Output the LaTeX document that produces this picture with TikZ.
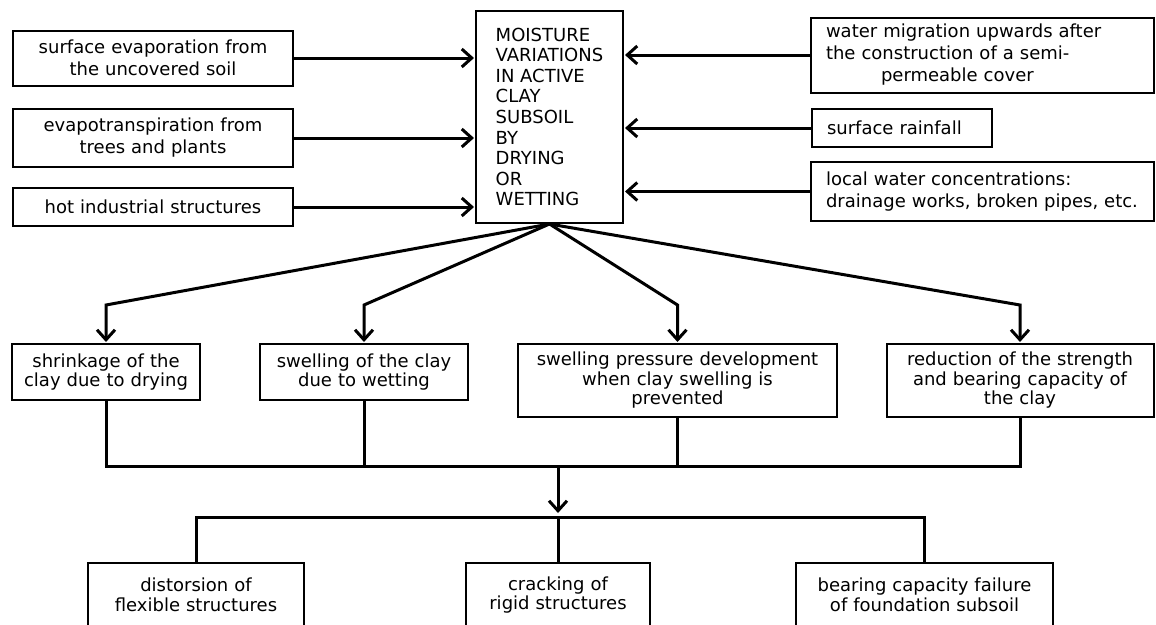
\documentclass[tikz,border=0pt]{standalone}
\usepackage{fontspec}
\setmainfont{DejaVu Sans}
\usetikzlibrary{arrows.meta}

\begin{document}
\begin{tikzpicture}[x=1pt, y=-1pt,
    every node/.style={font=\fontsize{18}{22}\selectfont},
    box/.style={draw, line width=2pt, inner sep=0pt, align=center},
    lowbox/.style={box, font=\fontsize{18}{19.5}\selectfont},
    link/.style={line width=3pt},
    flow/.style={link, -{Straight Barb[length=10pt,width=18pt]}, shorten >=1pt}]

    % Fix the page to the size of the picture
    \useasboundingbox (0,0) rectangle (1156,624);

    % Central box
    \node[box, align=left, minimum width=147pt, minimum height=212pt,
          font=\fontsize{18}{20.6}\selectfont] (moist) at (549.5,117)
        {MOISTURE\\VARIATIONS\\IN ACTIVE\\CLAY\\SUBSOIL\\BY\\DRYING\\OR\\WETTING};

    % Causes on the left (drying)
    \node[box, minimum width=280pt, text width=264pt, minimum height=55pt] (evap) at (153,58)
        {surface evaporation from\\the uncovered soil};
    \node[box, minimum width=280pt, text width=264pt, minimum height=58pt] (transp) at (153,138)
        {evapotranspiration from\\trees and plants};
    \node[box, minimum width=280pt, text width=264pt, minimum height=38pt] (hot) at (153,207)
        {hot industrial structures};

    % Causes on the right (wetting)
    \node[box, align=left, inner xsep=15pt, text width=313pt, minimum height=75pt] (migr) at (982.5,55)
        {water migration upwards after\\the construction of a semi-\\\hspace*{55pt}permeable cover};
    \node[box, align=left, inner xsep=15pt, text width=150pt, minimum height=38pt] (rain) at (902,128)
        {surface rainfall};
    \node[box, align=left, inner xsep=15pt, text width=313pt, minimum height=59pt] (local) at (982.5,191.5)
        {local water concentrations:\\drainage works, broken pipes, etc.};

    % Arrows into the central box
    \draw[flow] (evap.east) -- (evap.east -| moist.west);
    \draw[flow] (transp.east) -- (transp.east -| moist.west);
    \draw[flow] (hot.east) -- (hot.east -| moist.west);
    \draw[flow] (migr.west) -- (migr.west -| moist.east);
    \draw[flow] (rain.west) -- (rain.west -| moist.east);
    \draw[flow] (local.west) -- (local.west -| moist.east);

    % Effects on the clay
    \node[lowbox, minimum width=188pt, text width=180pt, minimum height=56pt] (shrink) at (106,372)
        {shrinkage of the\\clay due to drying};
    \node[lowbox, minimum width=208pt, text width=196pt, minimum height=56pt] (swell) at (364,372)
        {swelling of the clay\\due to wetting};
    \node[lowbox, minimum width=319pt, text width=305pt, minimum height=73pt] (press) at (677.5,380.5)
        {swelling pressure development\\when clay swelling is\\prevented};
    \node[lowbox, minimum width=267pt, text width=255pt, minimum height=73pt] (reduc) at (1020,380.5)
        {reduction of the strength\\and bearing capacity of\\the clay};

    % Fan of arrows from the central box
    \coordinate (fan) at (0,305);
    \draw[flow] (moist.south) -- (shrink.north |- fan) -- (shrink.north);
    \draw[flow] (moist.south) -- (swell.north |- fan) -- (swell.north);
    \draw[flow] (moist.south) -- (press.north |- fan) -- (press.north);
    \draw[flow] (moist.south) -- (reduc.north |- fan) -- (reduc.north);

    % Damage to structures (boxes run off the page bottom)
    \node[lowbox, minimum width=216pt, text width=200pt, minimum height=64pt] (dist) at (196,595)
        {distorsion of\\flexible structures};
    \node[lowbox, minimum width=184pt, text width=170pt, minimum height=64pt] (crack) at (558,595)
        {cracking of\\rigid structures};
    \node[lowbox, minimum width=257pt, text width=240pt, minimum height=64pt] (bear) at (924.5,595)
        {bearing capacity failure\\of foundation subsoil};

    % Collecting bus and distributing bus
    \coordinate (busup) at (558,466);
    \coordinate (busdown) at (558,517);
    \draw[link] (shrink.south) |- (busup) -| (reduc.south);
    \draw[link] (swell.south) -- (swell.south |- busup);
    \draw[link] (press.south) -- (press.south |- busup);
    \draw[flow, shorten >=4pt] (busup) -- (busdown);
    \draw[link] (dist.north) |- (busdown) -| (bear.north);
    \draw[link] (crack.north) -- (crack.north |- busdown);

\end{tikzpicture}
\end{document}
